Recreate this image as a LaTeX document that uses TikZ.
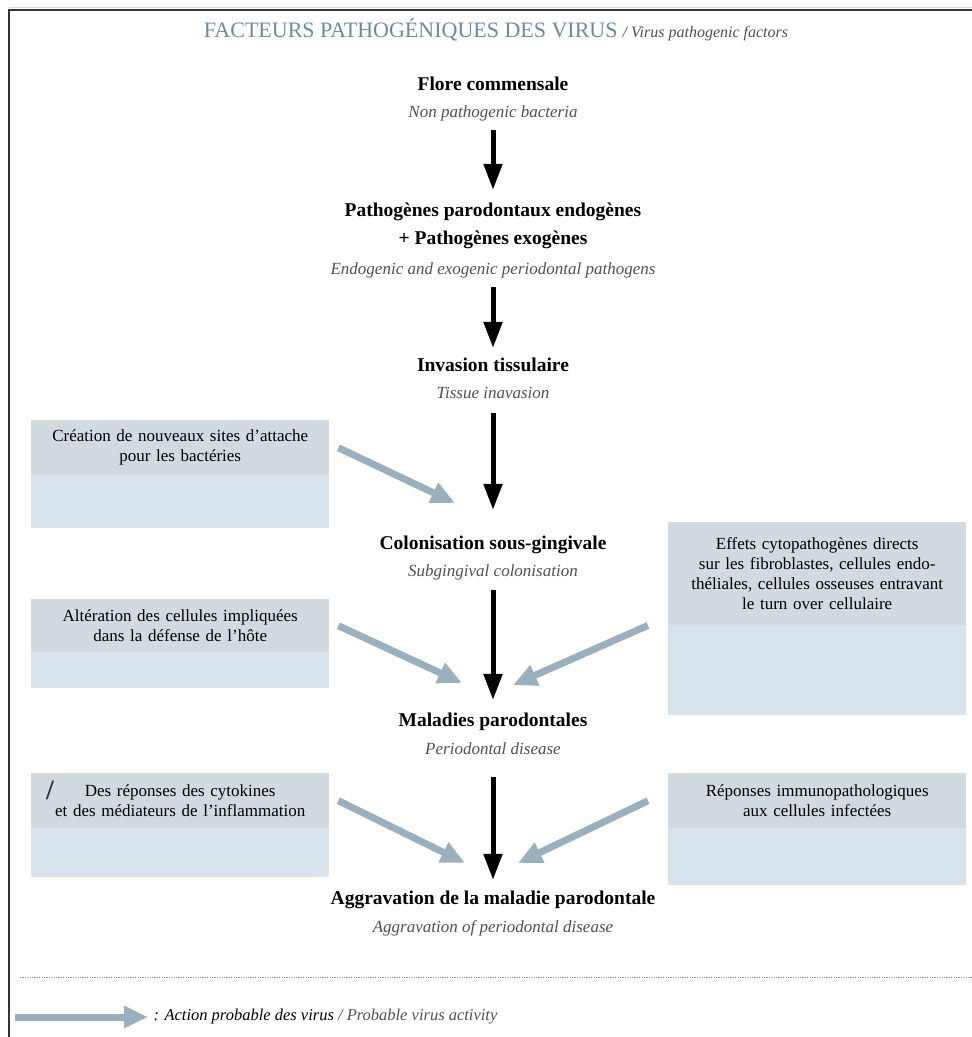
\documentclass[tikz,border=0pt]{standalone}
\usepackage{fontspec}
\setmainfont{Liberation Serif}
\usetikzlibrary{arrows.meta}

\definecolor{titleblue}{HTML}{6C8C99}
\definecolor{boxtop}{HTML}{D0DAE0}
\definecolor{boxlow}{HTML}{D9E3EE}
\definecolor{virusblue}{HTML}{9BB0BF}
\definecolor{englishgray}{HTML}{505050}

\tikzset{
  stage title/.style={font=\fontsize{19.5}{28}\selectfont\bfseries, align=center, inner sep=2pt},
  stage english/.style={font=\fontsize{17}{20}\selectfont\itshape, text=englishgray, inner sep=2pt},
  cause box/.style={fill=boxtop, anchor=north west, minimum width=298pt, text width=292pt,
    align=center, font=\fontsize{17}{20}\selectfont, inner sep=0pt},
  cause low/.style={fill=boxlow, anchor=north west, minimum width=298pt, inner sep=0pt},
  flow/.style={-{Triangle[length=26pt,width=18pt]}, line width=5pt},
  virus/.style={-{Triangle[length=24pt,width=21pt]}, line width=7pt, draw=virusblue},
}

\begin{document}
\begin{tikzpicture}[x=1pt, y=-1pt]
  \useasboundingbox (0,0) rectangle (972,1037);

  % frame
  \draw[black!15, line width=1pt] (9,7.5) -- (972,7.5);
  \draw[black!80, line width=1.6pt] (9,1037) -- (9,10) -- (972,10);

  \node (title) at (496,30) {{\color{titleblue}\fontsize{22}{24}\selectfont FACTEURS PATHOGÉNIQUES DES VIRUS}\enspace
    {\fontsize{16}{18}\selectfont\itshape\color{englishgray}/ Virus pathogenic factors}};

  % boxes (virus actions)
  \foreach \i/\bx/\by/\h/\l/\txt in {
      1/31/420/55/53/{Création de nouveaux sites d’attache\\pour les bactéries},
      2/31/599/53/36/{Altération des cellules impliquées\\dans la défense de l’hôte},
      3/668/522/103/90/{Effets cytopathogènes directs\\sur les fibroblastes, cellules endo-\\théliales, cellules osseuses entravant\\le turn over cellulaire},
      4/31/773/55/49/{Des réponses des cytokines\\et des médiateurs de l’inflammation},
      5/668/773/55/57/{Réponses immunopathologiques\\aux cellules infectées}}
  {
    \node[cause box, minimum height=\h pt] (cause-\i) at (\bx,\by) {\txt};
    \node[cause low, minimum height=\l pt] (cause-\i-low) at (\bx,\by+\h) {};
  }
  \node[font=\fontsize{28}{28}\selectfont\bfseries, text=black!80] (slash) at (50,790) {/};

  % main flow
  \foreach \name/\y/\fr/\ey/\en in {
      flore/84/{Flore commensale}/113/{Non pathogenic bacteria},
      patho/226/{Pathogènes parodontaux endogènes\\+ Pathogènes exogènes}/270/{Endogenic and exogenic periodontal pathogens},
      invasion/365/{Invasion tissulaire}/393/{Tissue inavasion},
      colon/545/{Colonisation sous-gingivale}/572/{Subgingival colonisation},
      maladie/722/{Maladies parodontales}/749/{Periodontal disease},
      aggrav/900/{Aggravation de la maladie parodontale}/928/{Aggravation of periodontal disease}}
  {
    \node[stage title] (\name) at (493,\y) {\fr};
    \node[stage english] (\name-en) at (493,\ey) {\en};
  }

  \foreach \a/\b/\s/\e in {flore-en/patho/7pt/11pt, patho-en/invasion/7pt/8pt,
      invasion-en/colon/12pt/24pt, colon-en/maladie/8pt/11pt, maladie-en/aggrav/20pt/9pt}
    \draw[flow, shorten <=\s, shorten >=\e] (\a) -- (\b);

  % virus arrows
  \coordinate (src-1) at ([xshift=9pt]cause-1.east);
  \coordinate (src-2) at ([xshift=9pt]cause-2.east);
  \coordinate (src-3) at ([xshift=-20pt]cause-3.south west);
  \coordinate (src-4) at ([xshift=9pt]cause-4.east);
  \coordinate (src-5) at ([xshift=-20pt]cause-5.west);
  \coordinate (hit-1) at (455,503);
  \coordinate (hit-2) at (462,683);
  \coordinate (hit-3) at (513,685);
  \coordinate (hit-4) at (465,863);
  \coordinate (hit-5) at (518,863);
  \foreach \i in {1,...,5}
    \draw[virus] (src-\i) -- (hit-\i);

  % legend
  \draw[black!45, line width=1pt, dash pattern=on 1.2pt off 1.2pt] (20,977) -- (972,977);
  \coordinate (legend-tail) at (15,1017);
  \node[anchor=west, font=\fontsize{16.5}{19}\selectfont\itshape] (legend) at (150,1017)
    {: Action probable des virus {\color{englishgray}/ Probable virus activity}};
  \draw[virus, shorten >=2pt] (legend-tail) -- (legend.west);
\end{tikzpicture}
\end{document}
